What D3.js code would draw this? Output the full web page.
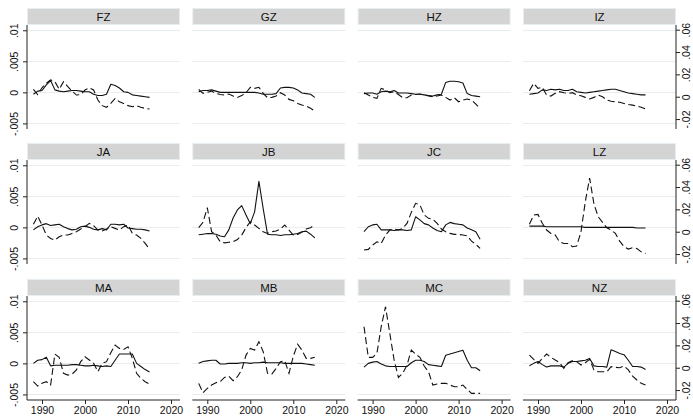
<!DOCTYPE html>
<html><head><meta charset="utf-8">
<script src="https://cdn.jsdelivr.net/npm/d3@7"></script>
<style>
body{margin:0;background:#fff}
svg{display:block}
text{font-family:"Liberation Sans",Arial,Helvetica,sans-serif;fill:#111}
</style>
</head><body>
<svg id="chart" width="693" height="417"></svg>
<script>
const years = [1988,1989,1990,1991,1992,1993,1994,1995,1996,1997,1998,1999,2000,2001,2002,2003,2004,2005,2006,2007,2008,2009,2010,2011,2012,2013,2014,2015];
const panelNames = ["FZ","GZ","HZ","IZ","JA","JB","JC","LZ","MA","MB","MC","NZ"];
const leftTicks = [-0.005, 0, 0.005, 0.01];
const leftTickLabels = ["-.005","0",".005",".01"];
const rightTicks = [-0.02, 0, 0.02, 0.04, 0.06];
const rightTickLabels = ["-.02","0",".02",".04",".06"];
const xTicks = [1990, 2000, 2010, 2020];
const xTickLabels = ["1990","2000","2010","2020"];

// solid line: left axis
const solidFZ = [-0.0003,0.0002,0.0003,0.0012,0.0019,0.0004,0.0002,0.0001,0.0002,0.0003,0.0003,0.0002,0.0001,0.0001,-0.0003,-0.0005,-0.0005,-0.0003,0.0013,0.0011,0.0007,0.0001,0.0,-0.0004,-0.0005,-0.0006,-0.0007,-0.0008];
const solidGZ = [0.0001,0.0003,0.0003,0.0004,0.0002,0,0,0,0,0,0,0,0,0,-0.0001,-0.0003,-0.0003,-0.0003,-0.0002,0.0007,0.0008,0.0008,0.0007,0.0004,-0.0001,-0.0002,-0.0003,-0.0008];
const solidHZ = [-0.0002,-0.0001,-0.0001,-0.0003,0.0001,0.0002,0.0001,0.0003,-0.0001,-0.0001,-0.0001,-0.0002,-0.0003,-0.0003,-0.0004,-0.0005,-0.0006,-0.0004,-0.0003,0.0016,0.0018,0.0018,0.0017,0.0015,-0.0002,-0.0005,-0.0006,-0.0007];
const solidIZ = [-0.0003,-0.0002,-0.0001,0.0004,0.0003,0.0005,0.0004,0.0005,0.0003,0.0003,0.0005,0.0001,0,-0.0001,0,0.0001,0.0002,0.0003,0.0004,0.0005,0.0005,0.0003,0.0001,-0.0001,-0.0002,-0.0003,-0.0004,-0.0004];
const solidJA = [-0.0004,0.0001,0.0004,0.0006,0.0003,0.0004,0.0005,0.0001,-0.0002,-0.0004,-0.0003,0.0001,0.0002,0,-0.0003,-0.0004,-0.0002,-0.0004,0.0005,0.0005,0.0004,0.0005,-0.0001,-0.0002,-0.0003,-0.0003,-0.0004,-0.0006];
const solidJB = [-0.0012,-0.0011,-0.001,-0.001,-0.0011,-0.0014,-0.0015,-0.0004,0.0015,0.0028,0.0035,0.002,0.0006,0.0025,0.0074,0.003,-0.0011,-0.0012,-0.0012,-0.0013,-0.0012,-0.0012,-0.0011,-0.001,-0.0007,-0.0006,-0.0011,-0.0017];
const solidJC = [-0.0007,0.0001,0.0004,0.0005,-0.0004,-0.0004,-0.0004,-0.0005,-0.0004,-0.0004,-0.0005,-0.0004,0.0017,0.0012,0.0006,0.0004,-0.0001,-0.0005,-0.0007,0.0004,0.0008,0.0006,0.0005,0.0004,-0.0001,-0.0004,-0.0007,-0.0019];
const solidLZ = [0.0002,0.0002,0.0002,0.0002,0.0001,0.0001,0.0001,0.0001,0.0001,0.0001,0.0001,0.0001,0.0001,0,0,0,0,0,0,0,0,0,0,0,0,-0.0001,-0.0001,-0.0001];
const solidMA = [0,0.0005,0.0006,0.001,-0.0004,-0.0003,-0.0003,-0.0003,-0.0003,-0.0002,-0.0002,-0.0003,-0.0004,-0.0004,-0.0003,-0.0004,-0.0005,-0.0004,-0.0005,0.0005,0.0015,0.0015,0.0015,0.0015,0,-0.0005,-0.001,-0.0014];
const solidMB = [0,0.0003,0.0004,0.0005,0.0005,-0.0001,-0.0001,0,0,0,0.0001,0.0001,0,0.0001,0.0001,0.0002,0.0001,0.0001,0.0001,0.0001,0,0,0,0,0,-0.0001,-0.0002,-0.0003];
const solidMC = [-0.0006,0,0.0002,0.0003,-0.0001,-0.0004,-0.0005,-0.0005,-0.0005,-0.0005,-0.0005,0.0001,0.0005,0.0005,0.0003,-0.0002,-0.0003,-0.0004,-0.0005,0.0013,0.0015,0.0017,0.0019,0.0021,0.0005,-0.0007,-0.0007,-0.0012];
const solidNZ = [-0.0004,0,0.0003,-0.0002,-0.0006,-0.0004,-0.0004,-0.0004,-0.0006,0,0.0003,0.0003,0.0004,0.0005,0.0008,-0.0004,-0.0005,-0.0005,-0.0006,0.0022,0.0019,0.0016,0.0014,0.0005,-0.0005,-0.0005,-0.0006,-0.001];

// dashed line: right axis
const dashedFZ = [0.0066,0.002,0.008,0.012,0.015,0.0135,0.0066,0.0135,0.009,0.005,0.0015,0.002,0.006,0.008,0.006,-0.003,-0.008,-0.0095,-0.006,-0.0015,-0.0045,-0.006,-0.008,-0.009,-0.008,-0.0095,-0.0105,-0.011];
const dashedGZ = [0.0066,0.003,0.004,0.005,0.003,0.002,0.0015,0.0024,0.0006,-0.0006,0.001,0.0036,0.0084,0.0075,0.0084,0.003,-0.0009,-0.0006,0.0006,0.0036,0.0015,-0.0024,-0.0036,-0.006,-0.0075,-0.0084,-0.0104,-0.0128];
const dashedHZ = [0.0036,0.0015,-0.0006,-0.0015,0.0075,0.006,0.0036,0.0045,0.002,-0.0009,-0.0009,0.0015,0.002,0.0024,0.0015,0.0006,0,0.0006,0.0015,-0.0006,-0.003,-0.0009,-0.0045,-0.003,-0.002,-0.003,-0.0066,-0.0105];
const dashedIZ = [0.0054,0.012,0.0075,0.0084,0.0015,0.0006,0.003,0.0045,0.0036,0.003,0.0036,0.0015,0.0009,-0.0006,-0.002,-0.0006,0.0015,0,-0.003,-0.004,-0.0045,-0.005,-0.006,-0.007,-0.0075,-0.0084,-0.0095,-0.011];
const dashedJA = [0.0066,0.014,0.006,-0.003,-0.006,-0.0075,-0.0045,-0.003,-0.003,-0.0015,0,0.0024,0.0045,0.0075,0.0054,0.0015,0.0006,0.0024,0.0045,0.003,0.0015,0.0045,0.006,-0.0015,-0.003,-0.006,-0.0105,-0.0155];
const dashedJB = [0.0036,0.0084,0.0215,0,-0.003,-0.009,-0.01,-0.0095,-0.009,-0.007,-0.003,0.0036,0.009,0.006,0.003,0,-0.0015,0,0.0006,0.0024,0.006,0.0015,-0.003,-0.0024,-0.0006,0.0024,0.0036,0.006];
const dashedJC = [-0.0164,-0.0158,-0.012,-0.009,-0.0105,-0.003,0.0015,0.0024,0.0015,0.003,0.0075,0.0173,0.0254,0.024,0.015,0.012,0.0113,0.0075,0.0024,0,-0.0015,-0.0024,-0.0024,-0.003,-0.0036,-0.0084,-0.0113,-0.015];
const dashedLZ = [0.0066,0.015,0.0155,0.0075,0.0015,-0.0015,-0.003,-0.009,-0.0105,-0.0105,-0.0134,-0.0128,0,0.027,0.048,0.025,0.0134,0.0084,0.0036,0.0015,-0.0015,-0.0084,-0.0134,-0.0155,-0.0143,-0.015,-0.018,-0.0194];
const dashedMA = [-0.0125,-0.0164,-0.014,-0.0125,-0.0155,0.0122,0.0093,-0.005,-0.0066,-0.0057,-0.002,0.0054,0.0098,0.0069,0.0039,-0.0036,0.0039,0.0054,0.0134,0.0203,0.0173,0.0164,0.0188,0.0084,-0.005,-0.0096,-0.0125,-0.0146];
const dashedMB = [-0.014,-0.0224,-0.0185,-0.0155,-0.0134,-0.0125,-0.0087,-0.0075,-0.0116,-0.0081,-0.002,0.0113,0.0173,0.0158,0.0233,0.0143,-0.005,-0.0057,-0.0006,0.0054,0.0063,-0.005,0.0104,0.021,0.0158,0.0084,0.0084,0.0093];
const dashedMC = [0.0367,0.0093,0.0093,0.0128,0.0367,0.0546,0.0307,0.0069,-0.0087,-0.005,0.0024,0.0158,0.0122,0.0093,0.0015,-0.0036,-0.0155,-0.0146,-0.014,-0.014,-0.0155,-0.017,-0.017,-0.0155,-0.0194,-0.023,-0.023,-0.023];
const dashedNZ = [0.0113,0.0075,0.0039,0.0084,0.0122,0.0093,0.0069,0.0045,-0.0006,0.0045,0.0063,0.0054,0.0024,0.0045,0.0075,-0.002,-0.0036,-0.0036,-0.0036,0.0009,0.0003,0,0.0015,-0.002,-0.0075,-0.011,-0.014,-0.0155];

const solidSeries = [solidFZ,solidGZ,solidHZ,solidIZ,solidJA,solidJB,solidJC,solidLZ,solidMA,solidMB,solidMC,solidNZ];
const dashedSeries = [dashedFZ,dashedGZ,dashedHZ,dashedIZ,dashedJA,dashedJB,dashedJC,dashedLZ,dashedMA,dashedMB,dashedMC,dashedNZ];

const svg = d3.select("#chart");
const colX = [27, 192.3, 357.6, 523];
const rowY = [0, 135, 271];
const pw = 153;

panelNames.forEach((name, i) => {
  const col = i % 4, row = Math.floor(i / 4);
  const x0 = colX[col], r0 = rowY[row];
  const top = r0 + 25, bottom = r0 + 129;
  const x = d3.scaleLinear().domain([1986.51, 2022.09]).range([x0, x0 + pw]);
  const yL = d3.scaleLinear().domain([-0.0059, 0.01085]).range([bottom, top]);
  const yR = d3.scaleLinear().domain([-0.0289, 0.0642]).range([bottom, top]);
  const g = svg.append("g");

  // header strip
  g.append("rect").attr("x", x0 + 0.5).attr("y", r0 + 8.5).attr("width", pw - 1).attr("height", 16)
    .attr("fill", "#d4d4d4").attr("stroke", "#e6eef1").attr("stroke-width", 1);
  g.append("text").attr("x", x0 + pw / 2).attr("y", r0 + 20.5).attr("text-anchor", "middle")
    .attr("font-size", 11.5).text(name);

  // gridlines
  g.selectAll("line.grid").data(leftTicks).join("line").attr("class", "grid")
    .attr("x1", x0).attr("x2", x0 + pw)
    .attr("y1", d => Math.round(yL(d)) + 0.5).attr("y2", d => Math.round(yL(d)) + 0.5)
    .attr("stroke", "#e9eded").attr("stroke-width", 1.2);

  // lines
  const lineS = d3.line().x((d, k) => x(years[k])).y(d => yL(d));
  const lineD = d3.line().x((d, k) => x(years[k])).y(d => yR(d));
  g.append("path").datum(solidSeries[i]).attr("d", lineS).attr("fill", "none")
    .attr("stroke", "#111").attr("stroke-width", 1.1).attr("stroke-linejoin", "round");
  g.append("path").datum(dashedSeries[i]).attr("d", lineD).attr("fill", "none")
    .attr("stroke", "#111").attr("stroke-width", 1.1).attr("stroke-dasharray", "7,3.5");

  // left axis
  if (col === 0) {
    const ax = g.append("g").attr("transform", `translate(${x0},0)`)
      .call(d3.axisLeft(yL).tickValues(leftTicks).tickFormat((d, k) => leftTickLabels[k]).tickSize(4).tickSizeOuter(0));
    ax.select(".domain").attr("stroke", "#222").attr("d", `M0,${top}V${bottom}`);
    ax.selectAll(".tick line").attr("stroke", "#222");
    ax.selectAll(".tick text").attr("x", null).attr("dy", null)
      .attr("transform", "translate(-13,0) rotate(-90)").attr("text-anchor", "middle")
      .attr("dominant-baseline", "central").attr("font-size", 10.5).style("font-family", '"Liberation Sans",Arial,sans-serif').attr("fill", "#111");
  }
  // right axis
  if (col === 3) {
    const ax = g.append("g").attr("transform", `translate(${x0 + pw},0)`)
      .call(d3.axisRight(yR).tickValues(rightTicks).tickFormat((d, k) => rightTickLabels[k]).tickSize(4).tickSizeOuter(0));
    ax.select(".domain").attr("stroke", "#222").attr("d", `M0,${top}V${bottom}`);
    ax.selectAll(".tick line").attr("stroke", "#222");
    ax.selectAll(".tick text").attr("x", null).attr("dy", null)
      .attr("transform", "translate(10,0) rotate(-90)").attr("text-anchor", "middle")
      .attr("dominant-baseline", "central").attr("font-size", 10.5).style("font-family", '"Liberation Sans",Arial,sans-serif').attr("fill", "#111");
  }
  // bottom axis
  if (row === 2) {
    const ax = g.append("g").attr("transform", `translate(0,${bottom})`)
      .call(d3.axisBottom(x).tickValues(xTicks).tickFormat((d, k) => xTickLabels[k]).tickSize(4).tickSizeOuter(0));
    ax.select(".domain").attr("stroke", "#222").attr("d", `M${x0},0H${x0 + pw}`);
    ax.selectAll(".tick line").attr("stroke", "#222");
    ax.selectAll(".tick text").attr("y", 7).attr("dy", "0.71em")
      .attr("font-size", 10.5).style("font-family", '"Liberation Sans",Arial,sans-serif').attr("fill", "#111");
  }
});
</script>
</body></html>
